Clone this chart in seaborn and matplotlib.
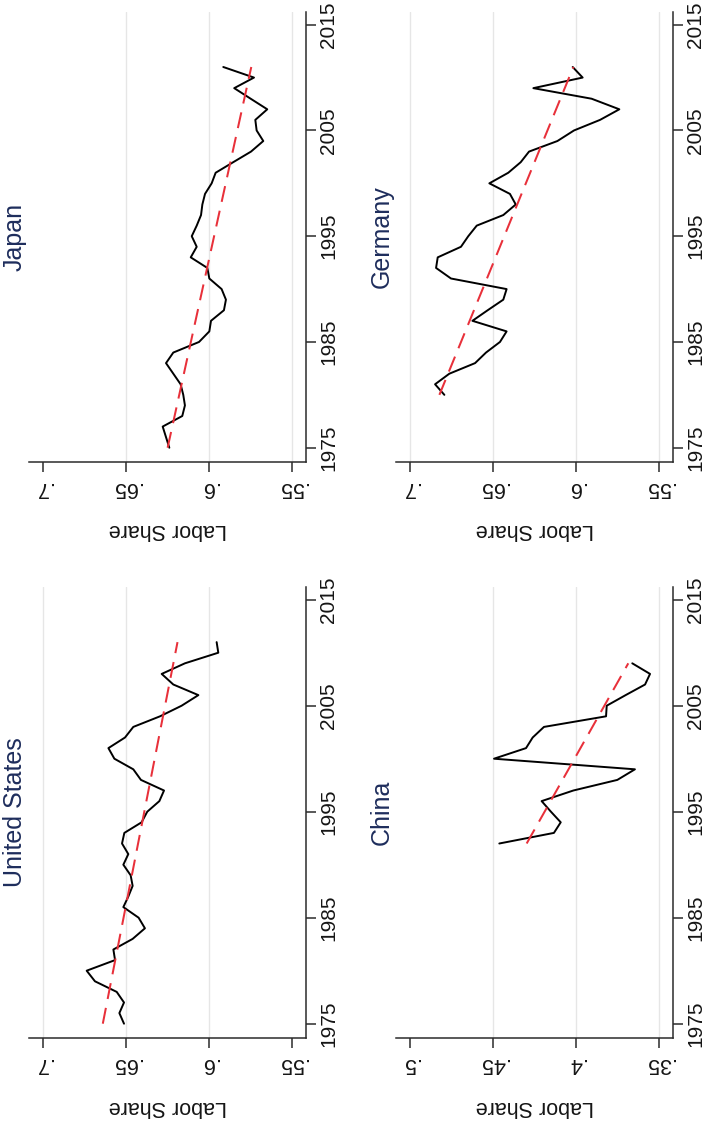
import numpy as np
import pandas as pd
import matplotlib
matplotlib.use("Agg")
import matplotlib.pyplot as plt
import seaborn as sns

# ---------------- data ----------------
years_japan = list(range(1975, 2012))
share_japan = [.6239, .6259, .6279, .6161, .6145, .6155, .6171, .6215, .6259, .6215,
               .6060, .5998, .5988, .5910, .5898, .5924, .5998, .6010, .6110, .6074,
               .6104, .6074, .6048, .6040, .6024, .5984, .5960, .5854, .5747, .5673,
               .5713, .5721, .5649, .5749, .5848, .5729, .5914]

years_germany = list(range(1980, 2012))
share_germany = [.6793, .6849, .6763, .6608, .6542, .6458, .6418, .6624, .6532, .6438,
                 .6418, .6753, .6843, .6833, .6693, .6649, .6598, .6438, .6363, .6398,
                 .6522, .6408, .6333, .6283, .6112, .6012, .5855, .5739, .5906, .6257,
                 .5960, .6020]

years_us = list(range(1975, 2012))
share_us = [.6512, .6540, .6512, .6556, .6687, .6737, .6566, .6576, .6460, .6386,
            .6424, .6516, .6486, .6460, .6472, .6516, .6486, .6524, .6510, .6406,
            .6372, .6299, .6271, .6410, .6456, .6570, .6606, .6506, .6456, .6295,
            .6165, .6064, .6215, .6285, .6145, .5944, .5954]

years_china = list(range(1992, 2010))
share_china = [.4462, .4133, .4092, .4151, .4207, .4016, .3751, .3645, .4494, .4301,
               .4261, .4193, .3819, .3815, .3701, .3584, .3554, .3661]

titles = ["Japan", "Germany", "United States", "China"]
year_ticks = [1975, 1985, 1995, 2005, 2015]
share_ticks_main = [.7, .65, .6, .55]
share_labels_main = [".7", ".65", ".6", ".55"]
share_ticks_china = [.5, .45, .4, .35]
share_labels_china = [".5", ".45", ".4", ".35"]
axis_title = "Labor Share"

# ---------------- style ----------------
sns.set_theme(style="white")
plt.rcParams["font.family"] = ["Liberation Sans", "DejaVu Sans"]

W, H = 705, 1123
fig = plt.figure(figsize=(W / 100, H / 100), dpi=100)
fig.patch.set_facecolor("white")

NAVY = "#1e2d5c"
RED = "#e8303a"
AX = "#2b2b2b"
GRID = "#e6e6e6"
TXT = "#151515"


def px_axes(left, top, right, bottom):
    return fig.add_axes([left / W, 1 - bottom / H, (right - left) / W, (bottom - top) / H])


panels = [
    (titles[0], years_japan, share_japan, (29, 12, 306, 462),
     share_ticks_main, share_labels_main, [.65, .6, .55]),
    (titles[1], years_germany, share_germany, (396, 12, 673, 462),
     share_ticks_main, share_labels_main, [.7, .65, .6, .55]),
    (titles[2], years_us, share_us, (29, 587, 306, 1038),
     share_ticks_main, share_labels_main, [.7, .65, .6]),
    (titles[3], years_china, share_china, (396, 587, 673, 1038),
     share_ticks_china, share_labels_china, [.45, .4, .35]),
]

PX_PER_UNIT = 1660.0

for name, yrs, shr, box, ticks, labels, grid in panels:
    ax = px_axes(*box)
    ax.set_facecolor("white")
    for g in grid:
        ax.axvline(g, color=GRID, lw=1.0, zorder=0)

    df = pd.DataFrame({"year": yrs, "share": shr})
    sns.lineplot(data=df, x="share", y="year", orient="y", sort=False,
                 estimator=None, color="black", lw=1.4, ax=ax, zorder=3)

    coef = np.polyfit(np.array(yrs, float), np.array(shr, float), 1)
    fit = np.polyval(coef, np.array(yrs, float))
    sns.lineplot(x=fit, y=yrs, orient="y", sort=False, estimator=None,
                 color=RED, lw=1.45, linestyle=(0, (8, 4.5)), ax=ax, zorder=4)

    pad = 14 / PX_PER_UNIT
    ax.set_xlim(max(ticks) + pad, min(ticks) - pad)
    ax.set_ylim(1973.65, 2016.2)

    ax.set_xticks(ticks)
    ax.set_xticklabels(labels, rotation=180)
    ax.set_yticks(year_ticks)
    ax.set_yticklabels([str(y) for y in year_ticks])
    ax.yaxis.tick_right()
    ax.tick_params(axis="y", which="major", right=True, left=False, labelright=True,
                   labelleft=False, labelrotation=90, length=7, width=1.1, pad=2.5,
                   labelsize=15, color=AX, labelcolor=TXT)
    ax.tick_params(axis="x", which="major", bottom=True, length=7, width=1.1, pad=4,
                   labelsize=15.5, color=AX, labelcolor=TXT)
    for t in ax.yaxis.get_major_ticks():
        t.label2.set_va("center")

    for s in ["top", "left"]:
        ax.spines[s].set_visible(False)
    for s in ["right", "bottom"]:
        ax.spines[s].set_visible(True)
        ax.spines[s].set_color(AX)
        ax.spines[s].set_linewidth(1.1)

    ax.set_ylabel("")
    ax.set_xlabel(axis_title, rotation=180, fontsize=15.5, color=TXT)
    ax.xaxis.set_label_coords(0.5, -(530 - 462) / 450)
    ax.xaxis.label.set_va("center")

    ax.text(-14 / 277, 0.5, name, transform=ax.transAxes, rotation=90,
            ha="center", va="center", fontsize=18, color=NAVY)

fig.savefig("out.png", dpi=100, facecolor="white")
